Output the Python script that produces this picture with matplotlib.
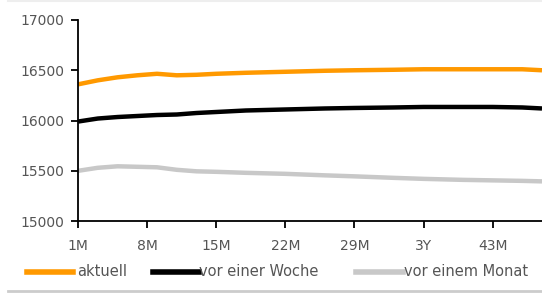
import matplotlib
matplotlib.use('Agg')
import matplotlib.pyplot as plt
from matplotlib.lines import Line2D

# months to maturity
months = [1, 3, 5, 7, 9, 11, 13, 15, 18, 22, 26, 29, 33, 36, 40, 43, 46, 48]

aktuell = [16360, 16400, 16430, 16450, 16465, 16450, 16455, 16465, 16475, 16485,
           16495, 16500, 16505, 16510, 16510, 16510, 16510, 16500]
woche = [15990, 16020, 16035, 16045, 16055, 16060, 16075, 16085, 16100, 16110,
         16120, 16125, 16130, 16135, 16135, 16135, 16130, 16120]
monat = [15500, 15530, 15545, 15540, 15535, 15510, 15495, 15490, 15480, 15470,
         15455, 15445, 15430, 15420, 15410, 15405, 15400, 15395]

tick_pos = [1, 8, 15, 22, 29, 36, 43]
tick_labels = ['1M', '8M', '15M', '22M', '29M', '3Y', '43M']
series_names = ['aktuell', 'vor einer Woche', 'vor einem Monat']
colors = ['#FF9900', '#000000', '#C8C8C8']

W, H = 542, 294
fig = plt.figure(figsize=(W / 100, H / 100), dpi=100)
ax = fig.add_axes([0.144, 0.248, 0.856, 0.684])

for vals, c in zip([aktuell, woche, monat], colors):
    ax.plot(months, vals, color=c, lw=3.2, solid_capstyle='butt')

ax.set_xlim(1, 48)
ax.set_ylim(15000, 17000)
ax.set_yticks([15000, 15500, 16000, 16500, 17000])
ax.set_xticks(tick_pos)
ax.set_xticklabels(tick_labels)

for s in ['top', 'right']:
    ax.spines[s].set_visible(False)
for s in ['left', 'bottom']:
    ax.spines[s].set_linewidth(1.3)
ax.tick_params(direction='out', length=5, width=1.3, labelsize=10,
               labelcolor='#555555')
ax.tick_params(axis='x', pad=8)
ax.tick_params(axis='y', pad=5)

# legend drawn by hand: handle start/end and text start in pixels
leg_x = [(27, 73, 77), (153, 199, 199), (356, 403, 404)]
leg_y = 1 - 272 / H
for (x0, x1, xt), c, name in zip(leg_x, colors, series_names):
    fig.add_artist(Line2D([x0 / W, x1 / W], [leg_y, leg_y], color=c, lw=4,
                          transform=fig.transFigure))
    fig.text(xt / W, leg_y, name, fontsize=10.5, color='#555555',
             va='center', ha='left')

# thin grey rules at top and bottom
fig.add_artist(Line2D([0.015, 1.0], [0.995, 0.995], color='#EEEEEE', lw=1.5,
                      transform=fig.transFigure))
fig.add_artist(Line2D([0.015, 1.0], [0.010, 0.010], color='#CCCCCC', lw=2,
                      transform=fig.transFigure))

fig.savefig('out.png', dpi=100)
